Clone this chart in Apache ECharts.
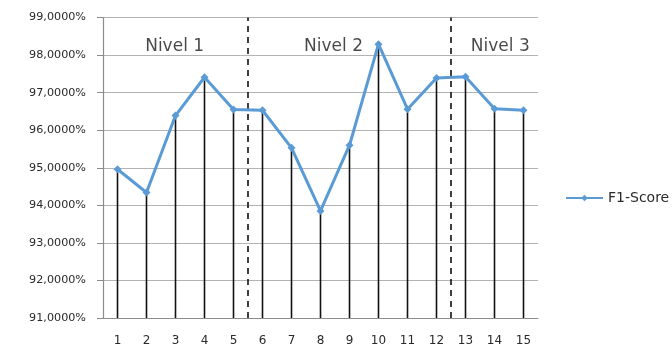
<!DOCTYPE html>
<html>
<head>
<meta charset="utf-8">
<script src="https://cdn.jsdelivr.net/npm/echarts@6/dist/echarts.min.js"></script>
<style>
  html, body { margin: 0; padding: 0; background: #fff; }
  #chart { width: 672px; height: 347px; }
</style>
</head>
<body>
<div id="chart"></div>
<script>
// Experiment runs and their F1-Score (%)
const runs = ['1','2','3','4','5','6','7','8','9','10','11','12','13','14','15'];
const f1Score = [94.96, 94.34, 96.39, 97.41, 96.55, 96.53, 95.53, 93.85, 95.60, 98.29, 96.56, 97.39, 97.42, 96.57, 96.53];

// Level boundaries (between runs 5|6 and 12|13) and level captions
const levelBreaks = [5.5, 12.5];
const levelNames = ['Nivel 1', 'Nivel 2', 'Nivel 3'];
const levelCaptionAt = [2.97, 8.45, 14.2];
const captionValue = 98.22;

const yMin = 91, yMax = 99;

const fmt = v => v.toFixed(4).replace('.', ',') + '%';

const chart = echarts.init(document.getElementById('chart'));
chart.setOption({
  animation: false,
  textStyle: { fontFamily: 'DejaVu Sans' },
  grid: { left: 103, right: 134, top: 17.5, bottom: 29 },
  legend: {
    data: ['F1-Score'],
    left: 565, top: 191, padding: 0,
    itemWidth: 37, itemHeight: 8, itemGap: 5,
    textStyle: { fontSize: 14, color: '#2a2a2a', fontFamily: 'DejaVu Sans', padding: [0, 0, 0, 0] }
  },
  xAxis: [
    {
      type: 'category', data: runs,
      axisLine: { lineStyle: { color: '#8c8c8c', width: 1 } },
      axisTick: { show: false },
      axisLabel: { fontSize: 12, color: '#2a2a2a', margin: 17 },
      splitLine: { show: false }
    },
    {
      type: 'value', min: 0.5, max: 15.5, show: false
    }
  ],
  yAxis: {
    type: 'value', min: yMin, max: yMax, interval: 1,
    axisLine: { show: true, lineStyle: { color: '#8c8c8c', width: 1.2 } },
    axisTick: { show: true, length: 6, lineStyle: { color: '#8c8c8c' } },
    axisLabel: { fontSize: 11.2, color: '#2a2a2a', margin: 17, formatter: fmt },
    splitLine: { lineStyle: { color: '#b3b3b3', width: 1.2 } }
  },
  series: [
    {
      // drop lines from each point to the axis
      type: 'bar', data: f1Score, barWidth: 1.6,
      itemStyle: { color: '#111' }, silent: true,
      xAxisIndex: 0
    },
    {
      type: 'scatter', xAxisIndex: 1,
      data: levelCaptionAt.map((x, i) => ({ value: [x, captionValue], name: levelNames[i] })),
      symbolSize: 0, silent: true,
      label: {
        show: true, position: 'inside', formatter: p => p.name,
        fontSize: 17, color: '#1a1a1a', fontFamily: 'DejaVu Sans'
      },
      markLine: {
        symbol: 'none', silent: true, label: { show: false },
        lineStyle: { color: '#111', type: [6, 5], width: 1.6 },
        data: levelBreaks.map(x => ({ xAxis: x }))
      }
    },
    {
      name: 'F1-Score', type: 'line', data: f1Score, xAxisIndex: 0,
      symbol: 'diamond', symbolSize: 8,
      lineStyle: { color: '#5b9bd5', width: 3 },
      itemStyle: { color: '#5b9bd5' },
      z: 5
    }
  ]
});
</script>
</body>
</html>
